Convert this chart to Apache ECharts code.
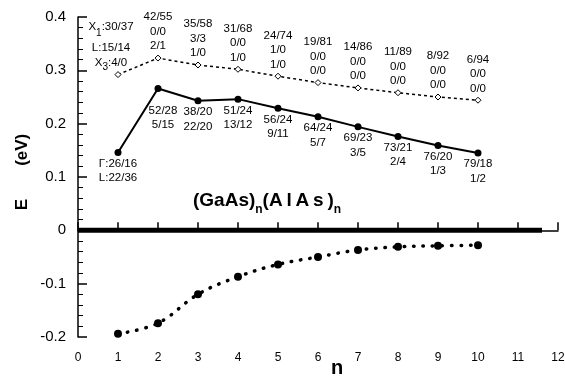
<!DOCTYPE html>
<html><head><meta charset="utf-8">
<script src="https://cdn.jsdelivr.net/npm/echarts@6/dist/echarts.min.js"></script>
<style>html,body{margin:0;padding:0;background:#fff}#c{width:565px;height:381px}</style>
</head><body><div id="c"></div>
<script>
const nValues = [1,2,3,4,5,6,7,8,9,10];
const gammaE = [0.146,0.266,0.243,0.246,0.229,0.213,0.194,0.176,0.159,0.145];
const xE = [0.292,0.323,0.310,0.302,0.289,0.277,0.267,0.258,0.250,0.244];
const holeE = [-0.194,-0.174,-0.120,-0.087,-0.064,-0.050,-0.037,-0.031,-0.029,-0.028];
const zeroLine = [[0,0],[11.6,0]];
const labX1 = ['30/37','42/55','35/58','31/68','24/74','19/81','14/86','11/89','8/92','6/94'];
const labL = ['15/14','0/0','3/3','0/0','1/0','0/0','0/0','0/0','0/0','0/0'];
const labX3 = ['4/0','2/1','1/0','1/0','1/0','0/0','0/0','0/0','0/0','0/0'];
const labGamma = ['26/16','52/28','38/20','51/24','56/24','64/24','69/23','73/21','76/20','79/18'];
const labLlow = ['22/36','5/15','22/20','13/12','9/11','5/7','3/5','2/4','1/3','1/2'];

const FONT = 'Liberation Sans, Arial, sans-serif';
const rich = {
  t: {fontSize: 11.5, fontFamily: FONT, color: '#000', lineHeight: 14.5},
  sa: {fontSize: 10, fontFamily: FONT, color: '#000', lineHeight: 26, padding: [12,0,0,0]},
  sb: {fontSize: 10, fontFamily: FONT, color: '#000', lineHeight: 15.5, padding: [10,0,0,0]}
};

const chart = echarts.init(document.getElementById('c'));
const upperData = nValues.map((n,i) => {
  const d = {value: [n, xE[i]]};
  if (i === 0) {
    d.label = {offset: [-7, 0], formatter: '{t|X}{sa|1}{t|:' + labX1[i] + '}\n{t|L:' + labL[i] + '}\n{t|X}{sb|3}{t|:' + labX3[i] + '}'};
  }
  return d;
});
const lowerData = nValues.map((n,i) => {
  const d = {value: [n, gammaE[i]]};
  if (i === 0) d.label = {formatter: '{t|Γ:' + labGamma[i] + '}\n{t|L:' + labLlow[i] + '}'};
  if (i === 1) d.label = {offset: [5, 11]};
  return d;
});

chart.setOption({
  animation: false,
  backgroundColor: '#fff',
  grid: {left: 78, right: 7, top: 17, bottom: 44, containLabel: false, outerBoundsMode: 'none'},
  xAxis: {
    type: 'value', min: 0, max: 12, interval: 1,
    name: 'n', nameLocation: 'middle', nameGap: 21, nameMoveOverlap: false,
    nameTextStyle: {fontSize: 20, fontWeight: 'bold', fontFamily: FONT, color: '#000', padding: [0,0,0,38]},
    axisLine: {lineStyle: {color: '#000', width: 1.5}},
    axisTick: {inside: true, length: 8, lineStyle: {color: '#000', width: 1.5}},
    axisLabel: {fontSize: 12, fontFamily: FONT, color: '#000', margin: 15},
    splitLine: {show: false}
  },
  yAxis: {
    type: 'value', min: -0.2, max: 0.4, interval: 0.1,
    name: 'E       (eV)', nameLocation: 'middle', nameGap: 47, nameMoveOverlap: false,
    nameTextStyle: {fontSize: 17, fontWeight: 'bold', fontFamily: FONT, color: '#000', padding: [0,0,0,10]},
    axisLine: {show: true, lineStyle: {color: '#000', width: 1.5}},
    axisTick: {inside: true, length: 9, lineStyle: {color: '#000', width: 1.5}},
    minorTick: {show: true, splitNumber: 5, length: 5, lineStyle: {color: '#000', width: 1}},
    axisLabel: {fontSize: 15, fontFamily: FONT, color: '#000', margin: 12,
      formatter: v => (Math.round(v*10)/10).toString()},
    splitLine: {show: false}
  },
  graphic: [{
    type: 'text', left: 193, top: 186,
    style: {
      text: '{b|(GaAs)}{s|n}{b|(A\u2009l\u2009A\u2009s\u2009)}{s|n}',
      rich: {
        b: {fontSize: 19, fontWeight: 'bold', fontFamily: FONT, fill: '#000', lineHeight: 22},
        s: {fontSize: 12, fontWeight: 'bold', fontFamily: FONT, fill: '#000', lineHeight: 22, padding: [18,0,0,0]}
      }
    }
  }],
  series: [
    {
      type: 'line', data: zeroLine, symbol: 'none', silent: true,
      lineStyle: {color: '#000', width: 5}
    },
    {
      type: 'line', data: upperData, symbol: 'diamond', symbolSize: 6,
      itemStyle: {color: '#fff', borderColor: '#000', borderWidth: 1},
      lineStyle: {color: '#000', width: 1.5, type: [3,3]},
      label: {show: true, position: 'top', distance: 1, rich: rich,
        formatter: p => '{t|' + labX1[p.dataIndex] + '}\n{t|' + labL[p.dataIndex] + '}\n{t|' + labX3[p.dataIndex] + '}'}
    },
    {
      type: 'line', data: lowerData, symbol: 'circle', symbolSize: 7,
      itemStyle: {color: '#000'},
      lineStyle: {color: '#000', width: 2},
      label: {show: true, position: 'bottom', distance: 0.5, rich: rich,
        formatter: p => '{t|' + labGamma[p.dataIndex] + '}\n{t|' + labLlow[p.dataIndex] + '}'}
    },
    {
      type: 'line', data: nValues.map((n,i) => [n, holeE[i]]), symbol: 'circle', symbolSize: 8,
      smooth: 0.4, itemStyle: {color: '#000'},
      lineStyle: {color: '#000', width: 3.5, type: [0.5,9], cap: 'round'}
    }
  ]
});
</script></body></html>
